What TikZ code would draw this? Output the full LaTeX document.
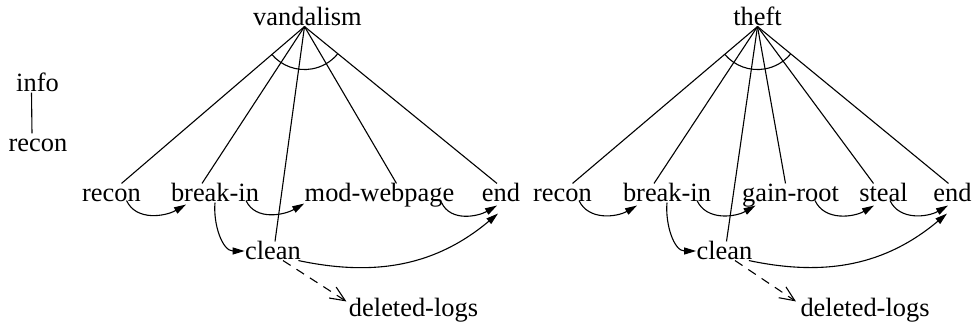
\documentclass[tikz,border=0pt]{standalone}
\usepackage{fontspec}
\setmainfont{Liberation Serif}
\usetikzlibrary{arrows.meta}

\begin{document}
\begin{tikzpicture}[x=1pt, y=1pt, line width=1.1pt,
lbl/.style={inner sep=0pt, text height=18pt, text depth=0pt, anchor=base, font=\fontsize{26.4}{30}\selectfont},
seq/.style={-{Triangle[length=12pt,width=7pt]}},
cause/.style={dash pattern=on 9pt off 7pt, -{Straight Barb[length=15pt,width=13pt]}},
]
\useasboundingbox (0,0) rectangle (974,-328);

%Nodes
\node[lbl]  (info)    at (37.5,-92)   {info};
\node[lbl]  (irecon)  at (38,-152)    {recon};

\node[lbl]  (vand)    at (307.5,-26)  {vandalism};
\node[lbl]  (vrecon)  at (111.5,-202) {recon};
\node[lbl]  (vbreak)  at (215,-202)   {break-in};
\node[lbl]  (vmod)    at (379.5,-202) {mod-webpage};
\node[lbl]  (vend)    at (501,-202)   {end};
\node[lbl]  (vclean)  at (273,-260)   {clean};
\node[lbl]  (vlogs)   at (413.5,-317) {deleted-logs};

\node[lbl]  (theft)   at (757.5,-26)  {theft};
\node[lbl]  (trecon)  at (562.5,-202) {recon};
\node[lbl]  (tbreak)  at (667,-202)   {break-in};
\node[lbl]  (troot)   at (790.5,-202) {gain-root};
\node[lbl]  (tsteal)  at (883.5,-202) {steal};
\node[lbl]  (tend)    at (952.5,-202) {end};
\node[lbl]  (tclean)  at (724.5,-260) {clean};
\node[lbl]  (tlogs)   at (865,-317)   {deleted-logs};

%Lines
\draw ([xshift=-6pt]info.south) -- ([xshift=-6pt]irecon.north);

\draw ([xshift=-3pt]vand.south) -- ([xshift=10pt]vrecon.north);
\draw ([xshift=-3pt]vand.south) -- ([xshift=-13pt]vbreak.north);
\draw ([xshift=-3pt]vand.south) -- ([xshift=2pt]vclean.north);
\draw ([xshift=-3pt]vand.south) -- ([xshift=17pt]vmod.north);
\draw ([xshift=-3pt]vand.south) -- ([xshift=-4pt]vend.north);
\draw ([xshift=-3pt]vand.south) ++(220:43pt) arc[start angle=220, end angle=320, radius=43pt];

\draw[seq] ([shift={(15pt,2pt)}]vrecon.south) to[out=-65, in=-150] ([shift={(-29pt,-2pt)}]vbreak.south);
\draw[seq] ([shift={(31pt,2pt)}]vbreak.south) to[out=-65, in=-150] ([yshift=-1pt]vmod.south west);
\draw[seq] ([xshift=62pt]vmod.south) to[out=-65, in=-150] ([shift={(-4pt,-3pt)}]vend.south);
\draw[seq] (vbreak.south) to[out=-95, in=180] (vclean.west);
\draw[seq] ([xshift=-3pt]vclean.south east) to[out=-12, in=-140] ([shift={(-3pt,-11pt)}]vend.south);
\draw[cause] ([xshift=10pt]vclean.south) -- ([shift={(-2pt,-3pt)}]vlogs.north west);

\draw (theft.south) -- ([xshift=10pt]trecon.north);
\draw (theft.south) -- ([xshift=-13pt]tbreak.north);
\draw (theft.south) -- ([xshift=2pt]tclean.north);
\draw (theft.south) -- ([xshift=-5pt]troot.north);
\draw (theft.south) -- ([xshift=-10pt]tsteal.north);
\draw (theft.south) -- ([xshift=-4pt]tend.north);
\draw (theft.south) ++(220:43pt) arc[start angle=220, end angle=320, radius=43pt];

\draw[seq] ([shift={(16.5pt,2pt)}]trecon.south) to[out=-65, in=-150] ([shift={(-30pt,-3pt)}]tbreak.south);
\draw[seq] ([shift={(30pt,2pt)}]tbreak.south) to[out=-65, in=-150] ([shift={(-35pt,-3pt)}]troot.south);
\draw[seq] ([shift={(24.5pt,2pt)}]troot.south) to[out=-65, in=-150] ([shift={(-9.5pt,-3pt)}]tsteal.south);
\draw[seq] ([shift={(6.5pt,2pt)}]tsteal.south) to[out=-65, in=-150] ([shift={(-4.5pt,-3pt)}]tend.south);
\draw[seq] (tbreak.south) to[out=-95, in=180] (tclean.west);
\draw[seq] ([xshift=-4pt]tclean.south east) to[out=-12, in=-140] ([shift={(-5.5pt,-11pt)}]tend.south);
\draw[cause] ([xshift=10.5pt]tclean.south) -- ([shift={(-4pt,-3pt)}]tlogs.north west);
\end{tikzpicture}
\end{document}
